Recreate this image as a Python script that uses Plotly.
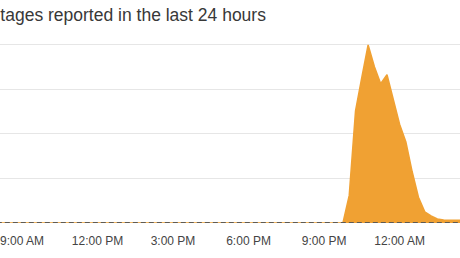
import plotly.graph_objects as go

# Report counts (15-minute buckets)
times = [
    "2024-03-05 08:00", "2024-03-05 12:00", "2024-03-05 18:00", "2024-03-05 21:30",
    "2024-03-05 21:45", "2024-03-05 22:00", "2024-03-05 22:15", "2024-03-05 22:30",
    "2024-03-05 22:45", "2024-03-05 23:00", "2024-03-05 23:15", "2024-03-05 23:30",
    "2024-03-05 23:45", "2024-03-06 00:00", "2024-03-06 00:15", "2024-03-06 00:30",
    "2024-03-06 00:45", "2024-03-06 01:00", "2024-03-06 01:15", "2024-03-06 01:30",
    "2024-03-06 01:45", "2024-03-06 02:00", "2024-03-06 02:15", "2024-03-06 02:30",
]
reports = [
    0, 0, 0, 0,
    0, 62, 252, 327,
    400, 351, 313, 333,
    279, 222, 182, 115,
    58, 25, 16, 9,
    7, 7, 7, 6,
]

baseline_times = ["2024-03-05 08:00", "2024-03-06 02:30"]
baseline_values = [0, 0]

title_text = "Outages reported in the last 24 hours"
tick_vals = ["2024-03-05 09:00", "2024-03-05 12:00", "2024-03-05 15:00",
             "2024-03-05 18:00", "2024-03-05 21:00", "2024-03-06 00:00",
             "2024-03-06 03:00"]
tick_text = ["9:00 AM", "12:00 PM", "3:00 PM", "6:00 PM", "9:00 PM", "12:00 AM", "3:00 AM"]

x_range = ["2024-03-05 08:07:36", "2024-03-06 02:24:00"]

fig = go.Figure()
fig.add_trace(go.Scatter(
    x=times, y=reports, mode="lines", fill="tozeroy",
    line=dict(color="#F0A133", width=1.5), fillcolor="#F0A133",
    hoverinfo="skip", showlegend=False,
))
fig.add_trace(go.Scatter(
    x=baseline_times, y=baseline_values, mode="lines",
    line=dict(color="#5f5a52", width=2.2, dash="5px,3px"),
    hoverinfo="skip", showlegend=False, cliponaxis=False,
))

fig.add_annotation(
    text=title_text, xref="paper", yref="paper", x=-25 / 460, y=1.0 + (40 - 15) / 183,
    xanchor="left", yanchor="middle", showarrow=False,
    font=dict(family="Liberation Sans, Arial, sans-serif", size=17.5, color="#383838"),
)

fig.update_layout(
    width=460, height=258,
    margin=dict(l=0, r=0, t=40, b=35),
    paper_bgcolor="white", plot_bgcolor="white",
    font=dict(family="Liberation Sans, Arial, sans-serif"),
    xaxis=dict(
        type="date", range=x_range, showgrid=False, zeroline=False, showline=False,
        tickmode="array", tickvals=tick_vals, ticktext=tick_text,
        tickfont=dict(size=12, color="#444444"), ticks="", ticklabelstandoff=9,
        ticklabeloverflow="allow",
    ),
    yaxis=dict(
        range=[0, 411], dtick=100, showgrid=True, gridcolor="#e6e6e6", gridwidth=1,
        zeroline=False, showline=False, showticklabels=False, ticks="",
    ),
)

fig.write_html("out.html")
